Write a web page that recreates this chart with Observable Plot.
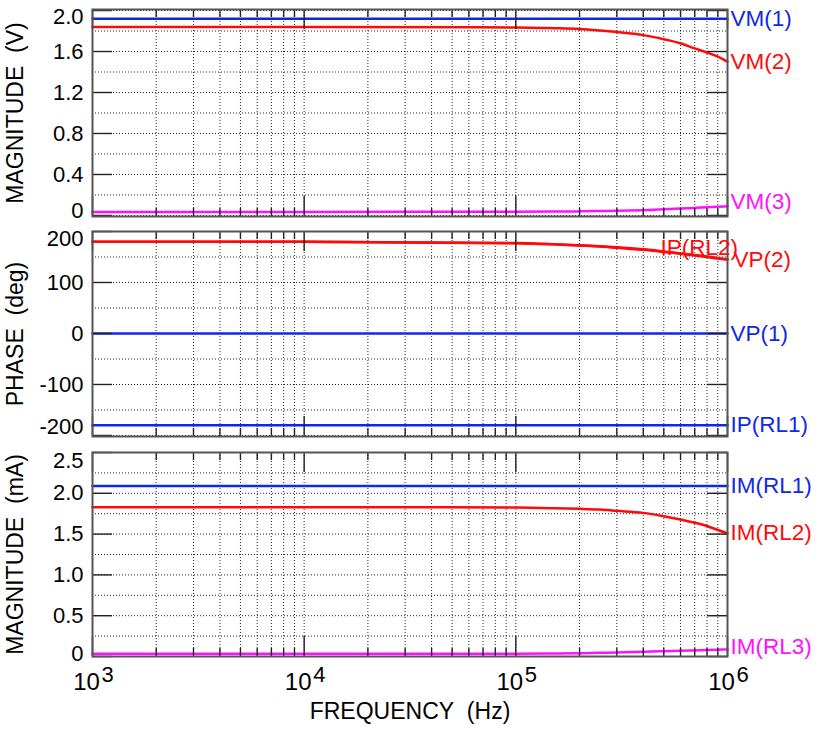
<!DOCTYPE html>
<html><head><meta charset="utf-8">
<script src="https://cdn.jsdelivr.net/npm/d3@7"></script>
<script src="https://cdn.jsdelivr.net/npm/@observablehq/plot@0.6"></script>
<style>
body{margin:0;background:#fff;}
#chart{position:relative;width:819px;height:734px;font-family:"Liberation Sans",Arial,sans-serif;}
#chart svg{position:absolute;left:0;overflow:visible;}
</style></head><body><div id="chart"></div>
<script>
// ---- data ----
const freq = [1e3, 1e4, 1e5, 1.5e5, 2e5, 2.5e5, 3e5, 4e5, 5e5, 6e5, 7e5, 8e5, 9e5, 1e6];
const vm1  = [1.92, 1.92, 1.92, 1.92, 1.92, 1.92, 1.92, 1.92, 1.92, 1.92, 1.92, 1.92, 1.92, 1.92];
const vm2  = [1.84, 1.84, 1.835, 1.828, 1.82, 1.805, 1.79, 1.76, 1.72, 1.68, 1.63, 1.59, 1.55, 1.50];
const vm3  = [0.035, 0.035, 0.037, 0.039, 0.04, 0.043, 0.045, 0.052, 0.06, 0.067, 0.074, 0.08, 0.085, 0.09];
const vp1  = [0, 0, 0, 0, 0, 0, 0, 0, 0, 0, 0, 0, 0, 0];
const vp2  = [180, 180, 177, 175, 173, 171, 169, 165, 161, 157, 154, 151, 148, 145];
const ip1  = [-180, -180, -180, -180, -180, -180, -180, -180, -180, -180, -180, -180, -180, -180];
const ip2  = [180, 180, 177.5, 175, 172.5, 170.5, 168, 164, 160, 156.5, 153, 150, 147, 145];
const im1  = [2.09, 2.09, 2.09, 2.09, 2.09, 2.09, 2.09, 2.09, 2.09, 2.09, 2.09, 2.09, 2.09, 2.09];
const im2  = [1.83, 1.83, 1.825, 1.818, 1.81, 1.80, 1.785, 1.76, 1.72, 1.68, 1.64, 1.60, 1.55, 1.51];
const im3  = [0.033, 0.033, 0.035, 0.037, 0.04, 0.045, 0.05, 0.058, 0.065, 0.07, 0.075, 0.08, 0.083, 0.086];

const decades = [1e3, 1e4, 1e5, 1e6];
const exponents = ["3", "4", "5", "6"];
const minors = [2e3,3e3,4e3,5e3,6e3,7e3,8e3,9e3, 2e4,3e4,4e4,5e4,6e4,7e4,8e4,9e4, 2e5,3e5,4e5,5e5,6e5,7e5,8e5,9e5];
const magVTicks = [0, 0.4, 0.8, 1.2, 1.6, 2.0];
const magVGrid = [0.2, 0.6, 1.0, 1.4, 1.8];
const phaseTicks = [-200, -100, 0, 100, 200];
const phaseGrid = [-150, -50, 50, 150];
const magITicks = [0, 0.5, 1.0, 1.5, 2.0, 2.5];
const magIGrid = [0.25, 0.75, 1.25, 1.75, 2.25];

const BLUE = "#1028e6", RED = "#ff0a0a", MAG = "#ff10ff";
const FONT = "'Liberation Sans', Arial, sans-serif";
const W = 819, ML = 92, MR = 92, PW = W - ML - MR;

function table(vals) { return freq.map((f, i) => ({f, v: vals[i]})); }

function panel({top, height, mt, mb, domain, ticks, grid, fmt, title, series, labels, dyTop, dyBottom, extra = []}) {
  const PH = height - mt - mb;
  const dot = {stroke: "#000", strokeDasharray: "1,2", strokeOpacity: 0.85, strokeWidth: 1};
  const tick = {stroke: "#222", strokeWidth: 1.4};
  const n = ticks.length;
  const tickText = (vals, dy) => Plot.text(vals, {y: d => d, frameAnchor: "left", dx: -9, dy, textAnchor: "end",
    text: fmt, fontSize: 22, fill: "#000"});
  const svg = Plot.plot({
    width: W, height, marginLeft: ML, marginRight: MR, marginTop: mt, marginBottom: mb,
    style: {fontFamily: FONT, fontSize: "20px", color: "#000", background: "transparent", overflow: "visible"},
    x: {type: "log", domain: [1e3, 1e6], axis: null},
    y: {domain, axis: null},
    marks: [
      Plot.ruleX([...minors, ...decades], {x: d => d, ...dot}),
      Plot.ruleY(grid, {y: d => d, ...dot}),
      Plot.ruleY(ticks, {y: d => d, ...dot}),
      ...series.map(([vals, color]) => Plot.line(table(vals), {x: "f", y: "v", stroke: color, strokeWidth: 2.5, curve: "monotone-x"})),
      Plot.ruleY(ticks, {y: d => d, insetRight: PW - 20, ...tick}),
      Plot.ruleY(ticks, {y: d => d, insetLeft: PW - 20, ...tick}),
      Plot.ruleX(minors, {x: d => d, insetBottom: PH - 8, ...tick}),
      Plot.ruleX(minors, {x: d => d, insetTop: PH - 8, ...tick}),
      Plot.ruleX(decades, {x: d => d, insetBottom: PH - 20, ...tick}),
      Plot.ruleX(decades, {x: d => d, insetTop: PH - 20, ...tick}),
      Plot.frame({stroke: "#555", strokeWidth: 2}),
      tickText(ticks.slice(1, n - 1), 0),
      tickText([ticks[0]], dyBottom),
      tickText([ticks[n - 1]], dyTop),
      Plot.text([title], {frameAnchor: "left", textAnchor: "middle", rotate: -90, dx: -77, fontSize: 23, fill: "#000"}),
      ...labels.map(([text, vals, color, dx, dy]) =>
        Plot.text([{f: 1e6, v: vals[vals.length - 1]}], {x: "f", y: "v", text: () => text, fill: color,
          fontSize: 22.5, dx, dy, textAnchor: "start"})),
      ...extra
    ]
  });
  svg.style.top = top + "px";
  document.getElementById("chart").appendChild(svg);
}

const fmt1 = d => d === 0 ? "0" : d.toFixed(1);

panel({
  top: 0, height: 224, mt: 9, mb: 8, domain: [-0.01, 2.01],
  ticks: magVTicks, grid: magVGrid, fmt: fmt1, title: "MAGNITUDE\u00a0 (V)", dyTop: 6, dyBottom: -5,
  series: [[vm3, MAG], [vm2, RED], [vm1, BLUE]],
  labels: [["VM(1)", vm1, BLUE, 3, 0], ["VM(2)", vm2, RED, 3, 0], ["VM(3)", vm3, MAG, 3, -4]]
});

panel({
  top: 224, height: 218, mt: 7, mb: 6, domain: [-202, 200],
  ticks: phaseTicks, grid: phaseGrid, fmt: d => String(d), title: "PHASE\u00a0 (deg)", dyTop: 7, dyBottom: -9,
  series: [[vp1, BLUE], [ip1, BLUE], [ip2, RED], [vp2, RED]],
  labels: [["IP(RL2)", ip2, RED, -67, -12], ["VP(2)", vp2, RED, 6, 0], ["VP(1)", vp1, BLUE, 3, 0], ["IP(RL1)", ip1, BLUE, 3, 0]]
});

panel({
  top: 442, height: 292, mt: 10, mb: 78, domain: [0, 2.5],
  ticks: magITicks, grid: magIGrid, fmt: fmt1, title: "MAGNITUDE\u00a0 (mA)", dyTop: 8, dyBottom: -3,
  series: [[im3, MAG], [im2, RED], [im1, BLUE]],
  labels: [["IM(RL1)", im1, BLUE, 3, 0], ["IM(RL2)", im2, RED, 3, 0], ["IM(RL3)", im3, MAG, 3, -3]],
  extra: [
    Plot.text(decades, {x: d => d, frameAnchor: "bottom", text: () => "10", dx: -6, dy: 33, fontSize: 24, fill: "#000"}),
    Plot.text(decades, {x: d => d, frameAnchor: "bottom", text: (d, i) => exponents[i], dx: 9, dy: 25, textAnchor: "start", fontSize: 22, fill: "#000"}),
    Plot.text(["FREQUENCY\u00a0 (Hz)"], {frameAnchor: "bottom", dy: 62, fontSize: 23, fill: "#000"})
  ]
});
</script></body></html>
